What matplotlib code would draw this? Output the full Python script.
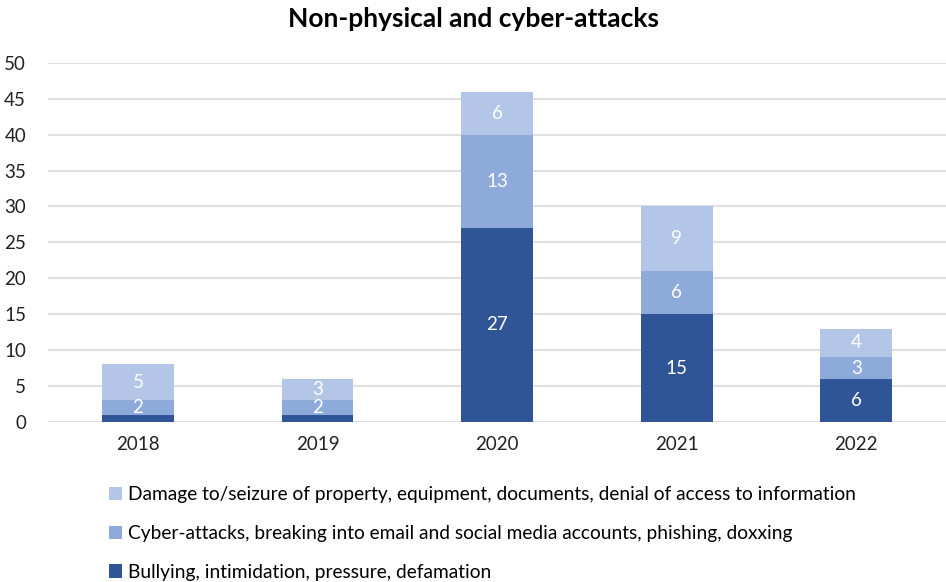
import matplotlib.pyplot as plt
import numpy as np

plt.rcParams['font.family'] = ['Lato', 'DejaVu Sans']

years = ['2018', '2019', '2020', '2021', '2022']
bullying = [1, 1, 27, 15, 6]
cyber = [2, 2, 13, 6, 3]
damage = [5, 3, 6, 9, 4]

labels = [
    'Bullying, intimidation, pressure, defamation',
    'Cyber-attacks, breaking into email and social media accounts, phishing, doxxing',
    'Damage to/seizure of property, equipment, documents, denial of access to information',
]
colors = ['#2f5597', '#8eaadb', '#b4c6e7']

fig = plt.figure(figsize=(9.46, 5.82), dpi=100)
ax = fig.add_axes([0.051, 0.275, 0.949, 0.617])

x = np.arange(len(years))
bottom = np.zeros(len(years))
handles = []
for vals, col, lab in zip([bullying, cyber, damage], colors, labels):
    vals = np.array(vals)
    b = ax.bar(x, vals, 0.4, bottom=bottom, color=col, label=lab, zorder=3)
    handles.append(b)
    for xi, v, bt in zip(x, vals, bottom):
        if v >= 2:
            ax.text(xi, bt + v / 2, str(v), ha='center', va='center',
                    color='white', fontsize=13.5, zorder=4)
    bottom += vals

ax.set_xlim(-0.5, 4.5)
ax.set_ylim(0, 50)
ax.set_yticks(range(0, 51, 5))
ax.set_xticks(x)
ax.set_xticklabels(years)
ax.tick_params(length=0, labelsize=13.5, colors='#222222')
ax.tick_params(axis='y', pad=16)
ax.tick_params(axis='x', pad=10)
ax.grid(axis='y', color='#d9d9d9', linewidth=1.2, zorder=0)
for s in ax.spines.values():
    s.set_visible(False)

fig.text(0.5, 0.967, 'Non-physical and cyber-attacks', ha='center', va='center',
         fontsize=19, fontweight='bold')

fig.legend(handles[::-1], labels[::-1], loc='upper left',
           bbox_to_anchor=(0.107, 0.178), frameon=False, fontsize=13.8,
           handlelength=0.7, handleheight=0.7, handletextpad=0.3,
           labelspacing=1.14, borderaxespad=0)

fig.savefig('out.png', dpi=100)
